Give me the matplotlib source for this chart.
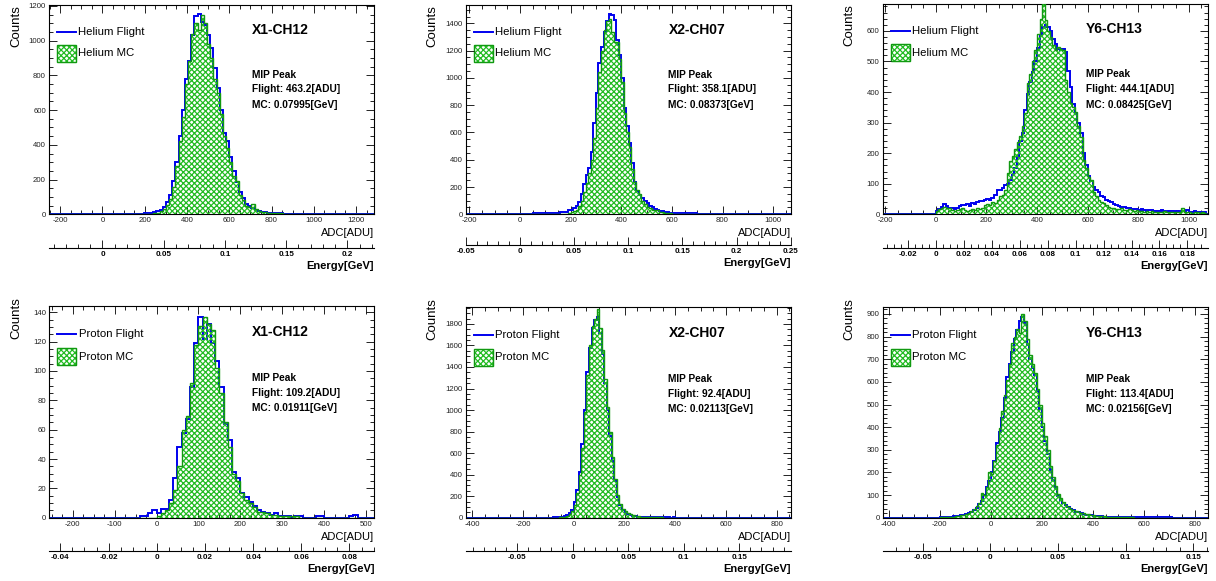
import numpy as np
import matplotlib
matplotlib.use("Agg")
import matplotlib.pyplot as plt
from matplotlib.lines import Line2D
from matplotlib.patches import Rectangle
from matplotlib.ticker import MultipleLocator, FuncFormatter

plt.rcParams['font.family'] = ['Liberation Sans', 'DejaVu Sans']
plt.rcParams['hatch.linewidth'] = 0.9

# ---- panel info ----
channels = ["X1-CH12", "X2-CH07", "Y6-CH13", "X1-CH12", "X2-CH07", "Y6-CH13"]
particles = ["Helium", "Helium", "Helium", "Proton", "Proton", "Proton"]
flight_peak = [463.2, 358.1, 444.1, 109.2, 92.4, 113.4]   # ADU
mc_peak = [0.07995, 0.08373, 0.08425, 0.01911, 0.02113, 0.02156]  # GeV

# ADC axis ranges, energy axis ranges and y maxima
adc_lo = [-253, -214, -210, -256, -426, -424]
adc_hi = [1285, 1069, 1075, 520, 855, 850]
gev_lo = [-0.0437, -0.05, -0.038, -0.0446, -0.0966, -0.0796]
gev_hi = [0.2218, 0.25, 0.1945, 0.0903, 0.1964, 0.1606]
y_top = [1205, 1535, 688, 144.5, 1960, 932]

# ---- histogram contents (bin start, bin width, counts) ----
# Helium X1-CH12
he_x1_bw = 15
he_x1_flight_start = 180
he_x1_flight = [3, 5, 6, 8, 12, 18, 25, 40, 70, 110, 190, 300, 450, 600, 780, 880, 1030, 1140,
                1155, 1110, 1090, 1030, 960, 840, 730, 600, 470, 420, 330, 250, 185, 130, 95, 60,
                45, 35, 25, 20, 16, 13, 10, 8, 7, 6, 5, 4, 3, 3, 2, 2, 2, 1, 2, 1, 1, 1, 1, 1]
he_x1_mc_start = 180
he_x1_mc = [0, 1, 2, 3, 5, 10, 18, 30, 55, 90, 160, 280, 420, 560, 750, 880, 1040, 1100, 1060,
            1150, 1100, 980, 900, 780, 700, 580, 450, 380, 300, 220, 190, 110, 80, 50, 40, 60, 30,
            20, 15, 12, 10, 10, 8, 6, 5, 3, 2, 2, 1, 1]

# Helium X2-CH07
he_x2_bw = 10
he_x2_flight_start = 40
he_x2_flight = [5, 6, 6, 7, 7, 8, 8, 9, 9, 10, 10, 12, 14, 17, 20, 28, 34, 48, 62, 90, 150, 225,
                290, 340, 460, 670, 890, 1110, 1230, 1340, 1420, 1468, 1460, 1425, 1280, 1170,
                1000, 780, 645, 520, 375, 240, 170, 140, 118, 95, 80, 62, 50, 42, 33, 27, 22, 18,
                15, 13, 11, 10, 9, 8, 8, 7, 7, 6, 6, 6, 5, 5, 5, 4, 5, 4, 4, 4, 3, 4, 3, 3, 3, 3,
                2, 3, 2, 2, 2, 2, 2, 2, 1, 2, 1, 1, 1, 1, 1, 1]
he_x2_mc_start = 180
he_x2_mc = [4, 8, 15, 25, 35, 60, 100, 160, 230, 300, 400, 560, 780, 1040, 1200, 1350, 1420,
            1430, 1340, 1265, 1265, 1140, 970, 740, 605, 495, 335, 240, 175, 150, 100, 75, 55,
            45, 35, 30, 28, 20, 15, 10, 8, 6, 5, 4, 3, 3, 2, 2, 1, 1]

# Helium Y6-CH13
he_y6_bw = 10
he_y6_flight_start = 0
he_y6_flight = [12, 16, 25, 34, 26, 22, 20, 18, 22, 27, 32, 30, 34, 28, 36, 33, 40, 44, 42, 48,
                50, 48, 52, 62, 80, 78, 85, 95, 100, 112, 130, 150, 188, 240, 265, 340, 395, 433,
                466, 500, 545, 585, 612, 618, 612, 600, 575, 558, 540, 537, 542, 530, 470, 418,
                362, 330, 300, 265, 200, 160, 125, 110, 90, 80, 72, 60, 55, 47, 42, 40, 35, 30,
                28, 25, 24, 22, 20, 18, 17, 16, 15, 16, 14, 12, 15, 13, 12, 10, 11, 13, 10, 9, 12,
                10, 8, 11, 9, 12, 10, 14, 9, 8, 10, 8, 6, 9, 7]
he_y6_mc_start = 0
he_y6_mc = [10, 18, 22, 24, 22, 20, 15, 12, 14, 18, 22, 15, 12, 14, 18, 15, 20, 16, 22, 30, 35,
            32, 40, 38, 47, 60, 63, 80, 134, 175, 190, 215, 237, 255, 290, 330, 428, 460, 500,
            537, 591, 640, 700, 635, 600, 580, 553, 537, 548, 540, 537, 439, 400, 363, 350, 335,
            290, 254, 177, 150, 123, 112, 74, 60, 47, 40, 36, 30, 25, 22, 20, 18, 16, 19, 15, 14,
            17, 13, 12, 14, 10, 12, 9, 11, 8, 10, 9, 7, 9, 8, 10, 7, 8, 6, 9, 7, 8, 20, 8, 6, 7,
            5, 6, 8, 5, 6, 5]

# Proton X1-CH12
pr_x1_bw = 10
pr_x1_flight_start = -40
pr_x1_flight = [1, 1, 3, 5, 3, 6, 6, 12, 27, 48, 58, 67, 89, 119, 137, 122, 132, 119, 107, 89,
                64, 53, 31, 27, 17, 14, 11, 8, 5, 4, 3, 2, 3, 1, 1, 1, 0, 1, 1, 0, 0, 0, 1, 1, 0,
                0, 0, 0, 0, 0, 1, 2, 0]
pr_x1_mc_start = -10
pr_x1_mc = [0, 1, 3, 5, 10, 19, 35, 60, 69, 92, 118, 131, 137, 132, 128, 102, 85, 65, 48, 30, 25,
            17, 12, 10, 7, 4, 4, 3, 2, 2, 1, 1, 1, 1, 1]

# Proton X2-CH07
pr_x2_bw = 10
pr_x2_flight_start = -80
pr_x2_flight = [3, 4, 6, 10, 18, 28, 42, 75, 150, 260, 420, 680, 1000, 1350, 1580, 1760, 1840,
                1865, 1720, 1520, 1250, 1000, 760, 530, 340, 195, 120, 75, 50, 33, 25, 18, 14, 10,
                8, 6, 5, 4, 4, 3, 3, 3, 2, 2, 2, 2, 1, 2, 1, 1, 1, 1, 1, 1, 1, 1, 1, 1, 1, 1, 1, 1,
                1, 1, 1, 1, 1, 1, 1, 1]
pr_x2_mc_start = -60
pr_x2_mc = [2, 4, 8, 15, 30, 60, 120, 230, 400, 650, 980, 1330, 1600, 1780, 1850, 1940, 1760,
            1560, 1290, 1030, 800, 560, 360, 210, 130, 85, 60, 45, 33, 25, 18, 14, 10, 8, 7, 6,
            7, 4, 3, 2, 2, 1]

# Proton Y6-CH13
pr_y6_bw = 10
pr_y6_flight_start = -200
pr_y6_flight = [2, 3, 3, 4, 5, 6, 7, 8, 10, 12, 16, 20, 26, 35, 45, 60, 75, 100, 135, 160, 200,
                250, 330, 380, 440, 530, 620, 680, 730, 790, 830, 870, 888, 860, 765, 700, 660,
                630, 560, 480, 400, 340, 280, 210, 165, 130, 95, 80, 66, 55, 46, 38, 32, 27, 23,
                19, 16, 14, 12, 10, 9, 8, 7, 6, 5, 5, 4, 4, 3, 3, 3, 2, 2, 2, 2, 1, 1, 1, 1, 2, 2,
                3, 3, 2, 1, 1, 1, 1, 1, 1, 1]
pr_y6_mc_start = -200
pr_y6_mc = [1, 2, 3, 3, 4, 5, 6, 8, 10, 12, 15, 22, 28, 38, 50, 65, 110, 100, 135, 200, 195, 250,
            320, 395, 470, 540, 610, 680, 770, 800, 835, 815, 900, 870, 790, 720, 680, 640, 570,
            500, 420, 360, 300, 230, 180, 140, 105, 85, 70, 58, 48, 40, 33, 28, 25, 22, 20, 18,
            15, 12, 10, 8, 7, 6, 6, 5, 4, 3, 3, 4, 5, 3, 2, 2, 1, 1]

hists = [
    (he_x1_bw, he_x1_flight_start, he_x1_flight, he_x1_mc_start, he_x1_mc),
    (he_x2_bw, he_x2_flight_start, he_x2_flight, he_x2_mc_start, he_x2_mc),
    (he_y6_bw, he_y6_flight_start, he_y6_flight, he_y6_mc_start, he_y6_mc),
    (pr_x1_bw, pr_x1_flight_start, pr_x1_flight, pr_x1_mc_start, pr_x1_mc),
    (pr_x2_bw, pr_x2_flight_start, pr_x2_flight, pr_x2_mc_start, pr_x2_mc),
    (pr_y6_bw, pr_y6_flight_start, pr_y6_flight, pr_y6_mc_start, pr_y6_mc),
]

# tick spacing (major, minor)
adc_ticks = [(200, 50), (200, 50), (200, 50), (100, 25), (200, 50), (200, 50)]
cnt_ticks = [(200, 50), (200, 50), (100, 20), (20, 5), (200, 50), (100, 20)]
gev_ticks = [(0.05, 0.01), (0.05, 0.01), (0.02, 0.005), (0.02, 0.005), (0.05, 0.01), (0.05, 0.01)]

# ---- layout (pixel positions in a 1216x581 canvas) ----
W, H = 1216, 581
lefts = [49, 465.7, 882.7, 49.3, 465.7, 882.7]
tops = [5, 5, 4, 305.7, 306.7, 306.7]
bottoms = [214.3, 214.3, 214.3, 517.7, 517.7, 517.7]
gev_line = [248, 245, 248, 551, 551, 551]
pw = 325

blue = '#0000ee'
green_line = '#119911'
green_hatch = '#22bb22'


def fx(px):
    return px / W


def fy(py):
    return 1 - py / H


def padded(start, bw, counts, lo, hi):
    edges = start + bw * np.arange(len(counts) + 1)
    edges = np.concatenate([[lo], edges, [hi]])
    vals = np.concatenate([[0], counts, [0]])
    return vals, edges


fig = plt.figure(figsize=(W / 100, H / 100), dpi=100)

for i in range(6):
    bw, fs, fl, ms, mc = hists[i]
    ph = bottoms[i] - tops[i]
    ax = fig.add_axes([fx(lefts[i]), fy(bottoms[i]), fx(pw), ph / H])
    lo, hi = adc_lo[i], adc_hi[i]

    fv, fe = padded(fs, bw, fl, lo, hi)
    mv, me = padded(ms, bw, mc, lo, hi)
    ax.stairs(fv, fe, color=blue, lw=1.4, baseline=None, zorder=2)
    ax.stairs(mv, me, fill=True, facecolor='none', edgecolor=green_hatch, hatch='xxxxxx',
              lw=0, zorder=3)
    ax.stairs(mv, me, color=green_line, lw=1.0, baseline=None, zorder=4)

    ax.set_xlim(lo, hi)
    ax.set_ylim(0, y_top[i])
    ax.xaxis.set_major_locator(MultipleLocator(adc_ticks[i][0]))
    ax.xaxis.set_minor_locator(MultipleLocator(adc_ticks[i][1]))
    ax.yaxis.set_major_locator(MultipleLocator(cnt_ticks[i][0]))
    ax.yaxis.set_minor_locator(MultipleLocator(cnt_ticks[i][1]))
    ax.xaxis.set_major_formatter(FuncFormatter(lambda v, p: '%g' % v))
    ax.yaxis.set_major_formatter(FuncFormatter(lambda v, p: '%g' % v))
    ax.tick_params(which='both', direction='in', top=True, right=True, labelsize=5.6,
                   labelcolor='#222222', width=0.6)
    ax.tick_params(which='major', length=5.5, pad=2.2)
    ax.tick_params(which='minor', length=2.8)
    for s in ax.spines.values():
        s.set_linewidth(0.8)

    ax.text(-0.1015, 1.0 if i < 3 else 1.04, 'Counts', rotation=90, ha='center', va='top',
            fontsize=9.5, transform=ax.transAxes)
    ax.text(1.0, -19 / ph, 'ADC[ADU]', ha='right', va='center', fontsize=8,
            transform=ax.transAxes)

    # legend
    ly = 0.872 if i < 3 else 0.865
    my0, my1 = (0.728, 0.809) if i < 3 else (0.72, 0.80)
    ax.add_line(Line2D([0.025, 0.083], [ly, ly], transform=ax.transAxes, color=blue, lw=1.4))
    ax.add_patch(Rectangle((0.025, my0), 0.058, my1 - my0, transform=ax.transAxes,
                           facecolor='none', edgecolor=green_hatch, hatch='xxxxxx', lw=0.9))
    ax.add_patch(Rectangle((0.025, my0), 0.058, my1 - my0, transform=ax.transAxes,
                           facecolor='none', edgecolor=green_line, lw=0.9))
    ax.text(0.09, ly, particles[i] + ' Flight', ha='left', va='center', fontsize=8.2,
            transform=ax.transAxes)
    ax.text(0.09, (my0 + my1) / 2, particles[i] + ' MC', ha='left', va='center', fontsize=8.2,
            transform=ax.transAxes)

    # channel name and MIP peak
    cy = 0.88 if i < 3 else 0.874
    ax.text(0.624, cy, channels[i], ha='left', va='center', fontsize=10, fontweight='bold',
            transform=ax.transAxes)
    ys = [0.666, 0.597, 0.522] if i < 3 else [0.658, 0.587, 0.516]
    lines = ['MIP Peak', 'Flight: %s[ADU]' % flight_peak[i], 'MC: %s[GeV]' % mc_peak[i]]
    for t, yy in zip(lines, ys):
        ax.text(0.624, yy, t, ha='left', va='center', fontsize=7.3, fontweight='bold',
                transform=ax.transAxes)

    # energy axis
    eax = fig.add_axes([fx(lefts[i]), fy(gev_line[i]), fx(pw), 0.0001])
    for side in ['left', 'right', 'top']:
        eax.spines[side].set_visible(False)
    eax.spines['bottom'].set_linewidth(0.8)
    eax.set_yticks([])
    eax.patch.set_visible(False)
    eax.set_xlim(gev_lo[i], gev_hi[i])
    eax.xaxis.set_major_locator(MultipleLocator(gev_ticks[i][0]))
    eax.xaxis.set_minor_locator(MultipleLocator(gev_ticks[i][1]))
    eax.xaxis.set_major_formatter(FuncFormatter(lambda v, p: '%g' % round(v, 6)))
    eax.tick_params(which='both', direction='in', labelsize=5.8, width=0.6)
    eax.tick_params(which='major', length=5.5, pad=2.0)
    eax.tick_params(which='minor', length=2.8)
    plt.setp(eax.get_xticklabels(), fontweight='bold')
    fig.text(fx(lefts[i] + pw), fy(gev_line[i] + 18.4), 'Energy[GeV]', ha='right', va='center',
             fontsize=8, fontweight='bold')

fig.savefig('out.png', dpi=100)
